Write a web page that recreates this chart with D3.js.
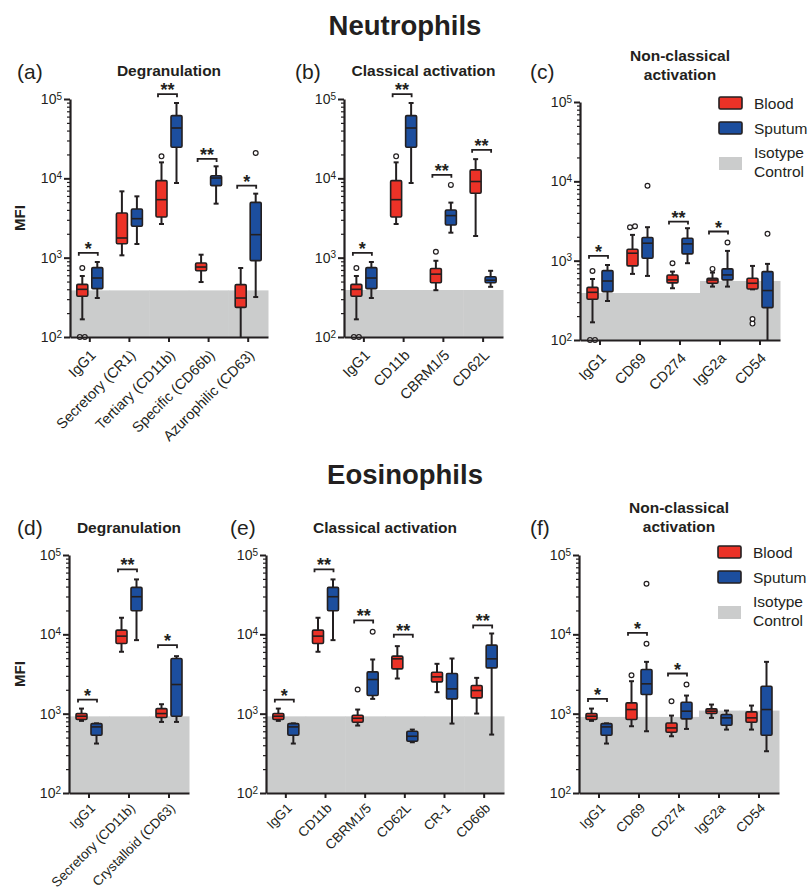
<!DOCTYPE html>
<html>
<head>
<meta charset="utf-8">
<script src="https://cdn.jsdelivr.net/npm/d3@7"></script>
<style>
body { margin: 0; background: #fff; }
svg { font-family: Arial, "Liberation Sans", Helvetica, sans-serif; }
</style>
</head>
<body>
<svg id="chart" width="809" height="891"></svg>
<script>
// ---- data: box stats are [whiskerLow, q1, median, q3, whiskerHigh] in MFI ----
var catsA = ["IgG1", "Secretory (CR1)", "Tertiary (CD11b)", "Specific (CD66b)", "Azurophilic (CD63)"];
var bloodA = [[167, 326, 399, 461, 587], [1070, 1500, 1770, 3656, 6855], [2657, 3255, 5385, 9355, 15900], [493, 685, 762, 857, 1090], [100, 236, 310, 457, 741]];
var sputumA = [[310, 407, 554, 748, 882], [1487, 2485, 3100, 4105, 5930], [8730, 24600, 43100, 61700, 89100], [4795, 8090, 10090, 10800, 14170], [319, 917, 1950, 4980, 6410]];
var bloodOutA = [[741, 100, 100], [], [18940], [], []];
var sputumOutA = [[], [], [], [], [20850]];
var sigA = ["*", "", "**", "**", "*"];
var sigLevelA = [1150, null, 115000, 17540, 8090];
var isoA = [387, 387, 387, 387, 387];

var catsB = ["IgG1", "CD11b", "CBRM1/5", "CD62L"];
var bloodB = [[167, 326, 399, 461, 587], [2657, 3255, 5385, 9355, 15900], [389, 482, 620, 731, 914], [1874, 6490, 9120, 12800, 17450]];
var sputumB = [[310, 407, 554, 748, 882], [8730, 24600, 43100, 61700, 89100], [2065, 2580, 3390, 3990, 4943], [429, 482, 520, 574, 683]];
var bloodOutB = [[741, 100, 100], [18940], [1188], []];
var sputumOutB = [[], [], [8266], []];
var sigB = ["*", "**", "**", "**"];
var sigLevelB = [1150, 115000, 11060, 22900];
var isoB = [391, 391, 391, 391];

var catsC = ["IgG1", "CD69", "CD274", "IgG2a", "CD54"];
var bloodC = [[167, 326, 399, 461, 587], [681, 859, 1241, 1394, 2114], [449, 525, 572, 661, 728], [471, 520, 571, 600, 708], [435, 440, 519, 600, 859]];
var sputumC = [[310, 407, 554, 748, 882], [642, 1073, 1660, 1958, 2642], [929, 1217, 1629, 1918, 2566], [471, 572, 661, 787, 1328], [100, 256, 420, 728, 911]];
var bloodOutC = [[741, 100, 100], [2642, 2710], [929], [787], [161, 184]];
var sputumOutC = [[], [8785], [], [1692], [2177]];
var sigC = ["*", "", "**", "*", ""];
var sigLevelC = [1150, null, 3114, 2330, null];
var isoC = [391, 391, 391, 555, 555];

var catsD = ["IgG1", "Secretory (CD11b)", "Crystalloid (CD63)"];
var bloodD = [[811, 843, 928, 1003, 1159], [6030, 7670, 9490, 11300, 16180], [787, 893, 1003, 1159, 1315]];
var sputumD = [[420, 535, 681, 750, 755], [8450, 19820, 29790, 39080, 49240], [787, 928, 2330, 4955, 5308]];
var bloodOutD = [[], [], []];
var sputumOutD = [[], [], []];
var sigD = ["*", "**", "*"];
var sigLevelD = [1507, 65900, 7310];
var isoD = [925, 925, 925];

var catsE = ["IgG1", "CD11b", "CBRM1/5", "CD62L", "CR-1", "CD66b"];
var bloodE = [[811, 843, 928, 1003, 1159], [6030, 7670, 9490, 11300, 16180], [708, 780, 875, 956, 1127], [2773, 3672, 4910, 5307, 7096], [1865, 2517, 2911, 3334, 4249], [1003, 1581, 1958, 2263, 2827]];
var sputumE = [[420, 535, 681, 750, 755], [8450, 19820, 29790, 39080, 49240], [1536, 1692, 2693, 3365, 4818], [436, 449, 519, 600, 630], [750, 1536, 2054, 3207, 4958], [545, 3782, 4910, 7305, 10250]];
var bloodOutE = [[], [], [2014], [], [], []];
var sputumOutE = [[], [], [10760], [], [], []];
var sigE = ["*", "**", "**", "**", "", "**"];
var sigLevelE = [1507, 65900, 14960, 9910, null, 12940];
var isoE = [925, 925, 925, 925, 925, 925];

var catsF = ["IgG1", "CD69", "CD274", "IgG2a", "CD54"];
var bloodF = [[811, 843, 928, 1003, 1159], [694, 843, 1127, 1368, 2566], [519, 583, 661, 764, 946], [885, 1003, 1074, 1148, 1303], [630, 780, 885, 1052, 1265]];
var sputumF = [[420, 535, 681, 750, 755], [600, 1742, 2377, 3605, 4500], [642, 859, 1074, 1393, 1692], [630, 714, 885, 975, 1094], [336, 535, 1127, 2219, 4500]];
var bloodOutF = [[], [3055], [1435], [], []];
var sputumOutF = [[], [7595, 43450], [2330], [], []];
var sigF = ["*", "*", "*", "", ""];
var sigLevelF = [1536, 10450, 3207, null, null];
var isoF = [910, 910, 910, 1094, 1094];

var seriesNames = ["Blood", "Sputum"];
var majorTicks = [100, 1000, 10000, 100000];

var RED = "#ec3227", BLUE = "#1c4e9e", GREY = "#cbcccc", INK = "#231f20";

var svg = d3.select("#chart");

// section titles
svg.append("text").attr("x", 405).attr("y", 35).attr("text-anchor", "middle")
	.attr("font-size", "27.5px").attr("font-weight", "bold").attr("fill", INK).text("Neutrophils");
svg.append("text").attr("x", 405).attr("y", 484).attr("text-anchor", "middle")
	.attr("font-size", "27.5px").attr("font-weight", "bold").attr("fill", INK).text("Eosinophils");

var panels = [
	{x0: 70, x1: 268, yTop: 99, yBot: 337, label: "(a)", labelX: 17, labelY: 79, title: ["Degranulation"], titleY: 76, mfi: true, tickFont: 14.5, tickDy: 19,
		cats: catsA, blood: bloodA, sputum: sputumA, bOut: bloodOutA, sOut: sputumOutA, sig: sigA, sigLevel: sigLevelA, iso: isoA},
	{x0: 344, x1: 503, yTop: 99, yBot: 337, label: "(b)", labelX: 295, labelY: 79, title: ["Classical activation"], titleY: 76, tickFont: 14.5, tickDy: 19,
		cats: catsB, blood: bloodB, sputum: sputumB, bOut: bloodOutB, sOut: sputumOutB, sig: sigB, sigLevel: sigLevelB, iso: isoB},
	{x0: 580, x1: 780, yTop: 102, yBot: 340, label: "(c)", labelX: 530, labelY: 79, title: ["Non-classical", "activation"], titleY: 61, legend: 97, tickFont: 14.5, tickDy: 19,
		cats: catsC, blood: bloodC, sputum: sputumC, bOut: bloodOutC, sOut: sputumOutC, sig: sigC, sigLevel: sigLevelC, iso: isoC},
	{x0: 69, x1: 189, yTop: 555, yBot: 793, label: "(d)", labelX: 17, labelY: 535, title: ["Degranulation"], titleY: 533, mfi: true, tickFont: 13.5, tickDy: 16,
		cats: catsD, blood: bloodD, sputum: sputumD, bOut: bloodOutD, sOut: sputumOutD, sig: sigD, sigLevel: sigLevelD, iso: isoD},
	{x0: 266, x1: 504, yTop: 555, yBot: 793, label: "(e)", labelX: 230, labelY: 535, title: ["Classical activation"], titleY: 533, tickFont: 13.5, tickDy: 16,
		cats: catsE, blood: bloodE, sputum: sputumE, bOut: bloodOutE, sOut: sputumOutE, sig: sigE, sigLevel: sigLevelE, iso: isoE},
	{x0: 579, x1: 779, yTop: 555, yBot: 793, label: "(f)", labelX: 530, labelY: 535, title: ["Non-classical", "activation"], titleY: 513, legend: 546, tickFont: 13.5, tickDy: 16,
		cats: catsF, blood: bloodF, sputum: sputumF, bOut: bloodOutF, sOut: sputumOutF, sig: sigF, sigLevel: sigLevelF, iso: isoF}
];

panels.forEach(function(p){ drawPanel(p); });

//Horizontal offsets so outliers with nearly equal values sit side by side.
function spread(vals){
	return vals.map(function(v, i){
		var near = [];
		vals.forEach(function(w, j){ if(Math.abs(Math.log10(w / v)) < 0.05) near.push(j); });
		if(near.length < 2) return 0;
		return (near.indexOf(i) - (near.length - 1) / 2) * 5;
	});
}

function drawPanel(p){
	var g = svg.append("g");
	var x = d3.scaleBand().domain(p.cats).range([p.x0, p.x1]);
	var y = d3.scaleLog().domain([100, 100000]).range([p.yBot, p.yTop]);
	var bw = x.bandwidth();
	var half = 7.5, boxW = 11;

	//Panel letter and title.
	g.append("text").attr("x", p.labelX).attr("y", p.labelY)
		.attr("font-size", "21px").attr("fill", INK).text(p.label);
	p.title.forEach(function(t, i){
		g.append("text").attr("x", (p.x0 + p.x1) / 2).attr("y", p.titleY + i * 19)
			.attr("text-anchor", "middle").attr("font-size", "15.5px").attr("font-weight", "bold")
			.attr("fill", INK).text(t);
	});
	if(p.mfi){
		g.append("text").attr("transform", "translate(25," + ((p.yTop + p.yBot) / 2) + ") rotate(-90)")
			.attr("text-anchor", "middle").attr("font-size", "15px").attr("font-weight", "bold")
			.attr("fill", INK).text("MFI");
	}

	//Isotype control shading.
	g.selectAll("rect.iso").data(p.cats).enter().append("rect")
		.attr("class", "iso")
		.attr("x", function(d){ return x(d); })
		.attr("width", bw + 0.5)
		.attr("y", function(d, i){ return y(p.iso[i]); })
		.attr("height", function(d, i){ return p.yBot - y(p.iso[i]); })
		.attr("fill", GREY);

	//Boxes for both series.
	var boxes = [];
	p.cats.forEach(function(c, i){
		boxes.push({cat: c, s: 0, st: p.blood[i], out: p.bOut[i]});
		boxes.push({cat: c, s: 1, st: p.sputum[i], out: p.sOut[i]});
	});
	var cx = function(d){ return x(d.cat) + bw / 2 + (d.s ? half : -half); };

	var bg = g.selectAll("g.box").data(boxes).enter().append("g").attr("class", "box");
	bg.append("line")
		.attr("x1", cx).attr("x2", cx)
		.attr("y1", function(d){ return y(d.st[0]); })
		.attr("y2", function(d){ return y(d.st[4]); })
		.attr("stroke", INK).attr("stroke-width", 2);
	[0, 4].forEach(function(k){
		bg.filter(function(d){ return y(d.st[k]) < p.yBot - 1; })
			.append("line")
			.attr("x1", function(d){ return cx(d) - 2.5; }).attr("x2", function(d){ return cx(d) + 2.5; })
			.attr("y1", function(d){ return y(d.st[k]); }).attr("y2", function(d){ return y(d.st[k]); })
			.attr("stroke", INK).attr("stroke-width", 2);
	});
	bg.append("rect")
		.attr("x", function(d){ return cx(d) - boxW / 2; })
		.attr("width", boxW)
		.attr("y", function(d){ return y(d.st[3]); })
		.attr("height", function(d){ return Math.max(1, y(d.st[1]) - y(d.st[3])); })
		.attr("rx", 1.2)
		.attr("fill", function(d){ return d.s ? BLUE : RED; })
		.attr("stroke", INK).attr("stroke-width", 1.6);
	bg.append("line")
		.attr("x1", function(d){ return cx(d) - boxW / 2; }).attr("x2", function(d){ return cx(d) + boxW / 2; })
		.attr("y1", function(d){ return y(d.st[2]); }).attr("y2", function(d){ return y(d.st[2]); })
		.attr("stroke", INK).attr("stroke-width", 1.6);
	bg.each(function(d){
		var offs = spread(d.out);
		d3.select(this).selectAll("circle").data(d.out).enter().append("circle")
			.attr("cx", function(v, j){ return cx(d) + offs[j]; })
			.attr("cy", function(v){ return y(v); })
			.attr("r", 2.4)
			.attr("fill", "#fff").attr("stroke", INK).attr("stroke-width", 1.2);
	});

	//Significance brackets.
	p.cats.forEach(function(c, i){
		if(!p.sig[i]) return;
		var mid = x(c) + bw / 2, ly = y(p.sigLevel[i]);
		g.append("path")
			.attr("d", "M" + (mid - 11) + "," + (ly + 3) + "V" + ly + "H" + (mid + 8) + "V" + (ly + 3))
			.attr("fill", "none").attr("stroke", INK).attr("stroke-width", 1.8);
		g.append("text").attr("x", mid - 1.5).attr("y", ly + 2)
			.attr("text-anchor", "middle").attr("font-size", "18px").attr("font-weight", "bold")
			.attr("fill", INK).text(p.sig[i]);
	});

	//Y axis with log minor ticks.
	var minor = [];
	[100, 1000, 10000].forEach(function(dec){
		for(var k = 2; k < 10; k++) minor.push(dec * k);
	});
	var yMinor = g.append("g").attr("transform", "translate(" + p.x0 + ",0)")
		.call(d3.axisLeft(y).tickValues(minor).tickSize(3).tickSizeOuter(0).tickFormat(""));
	yMinor.select(".domain").remove();
	yMinor.selectAll(".tick line").attr("stroke", INK).attr("stroke-width", 1.2);
	var yMajor = g.append("g").attr("transform", "translate(" + p.x0 + ",0)")
		.call(d3.axisLeft(y).tickValues(majorTicks).tickSize(6).tickSizeOuter(0).tickFormat(""));
	yMajor.select(".domain").attr("stroke", INK).attr("stroke-width", 2.2);
	yMajor.selectAll(".tick line").attr("stroke", INK).attr("stroke-width", 2);
	majorTicks.forEach(function(v){
		var t = g.append("text").attr("x", p.x0 - 8).attr("y", y(v) + 5)
			.attr("text-anchor", "end").attr("font-size", "14px").attr("fill", INK);
		t.append("tspan").text("10");
		t.append("tspan").attr("dy", "-0.45em").attr("font-size", "10px").text(Math.round(Math.log10(v)));
	});

	//X axis with rotated category labels.
	var xa = g.append("g").attr("transform", "translate(0," + p.yBot + ")")
		.call(d3.axisBottom(x).tickSize(5).tickSizeOuter(0));
	xa.select(".domain").attr("stroke", INK).attr("stroke-width", 2.2);
	xa.selectAll(".tick line").attr("stroke", INK).attr("stroke-width", 2);
	xa.selectAll(".tick text")
		.attr("x", 0).attr("y", 0).attr("dy", 0)
		.attr("transform", "translate(7," + p.tickDy + ") rotate(-45)")
		.style("text-anchor", "end")
		.attr("font-size", p.tickFont + "px")
		.attr("font-family", null)
		.attr("fill", INK);

	//Legend.
	if(p.legend){
		var lx = p.x1 - 61, ly0 = p.legend;
		[RED, BLUE].forEach(function(col, k){
			g.append("rect").attr("x", lx).attr("y", ly0 + k * 25).attr("width", 23).attr("height", 12)
				.attr("rx", 1.5).attr("fill", col).attr("stroke", INK).attr("stroke-width", 1.6);
			g.append("text").attr("x", lx + 35).attr("y", ly0 + k * 25 + 11.5)
				.attr("font-size", "15.5px").attr("fill", INK).text(seriesNames[k]);
		});
		g.append("rect").attr("x", lx).attr("y", ly0 + 60).attr("width", 23).attr("height", 13).attr("fill", GREY);
		g.append("text").attr("x", lx + 35).attr("y", ly0 + 61).attr("font-size", "15.5px").attr("fill", INK).text("Isotype");
		g.append("text").attr("x", lx + 35).attr("y", ly0 + 80).attr("font-size", "15.5px").attr("fill", INK).text("Control");
	}
}
</script>
</body>
</html>
